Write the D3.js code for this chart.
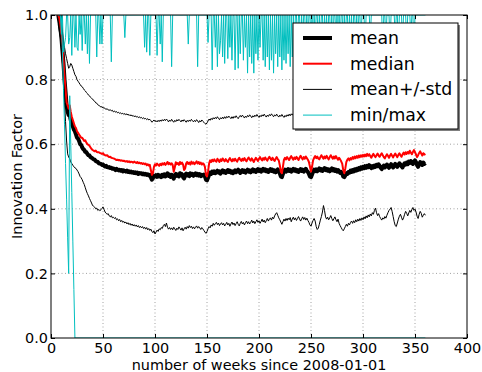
<!DOCTYPE html>
<html>
<head>
<meta charset="utf-8">
<script src="https://cdn.jsdelivr.net/npm/d3@7"></script>
<style>
  html, body { margin: 0; padding: 0; background: #fff; }
  svg text { font-family: "DejaVu Sans", sans-serif; fill: #000; }
</style>
</head>
<body>
<svg id="chart" width="482" height="372"></svg>
<script>
// weekly series, first value is week 7
const firstWeek = 7;

const meanValues = [
  1.00,0.98,0.96,0.93,0.89,0.85,0.80,0.76,0.72,0.70,
  0.69,0.69,0.675,0.66,0.655,0.645,0.64,0.63,0.62,0.618,
  0.61,0.60,0.598,0.59,0.585,0.582,0.576,0.575,0.57,0.566,
  0.565,0.56,0.558,0.556,0.553,0.552,0.548,0.546,0.545,0.541,
  0.54,0.539,0.536,0.537,0.533,0.531,0.533,0.529,0.528,0.529,
  0.526,0.527,0.524,0.525,0.523,0.52,0.524,0.521,0.519,0.521,
  0.518,0.52,0.516,0.519,0.517,0.515,0.518,0.514,0.516,0.513,
  0.515,0.512,0.514,0.511,0.513,0.51,0.512,0.508,0.511,0.509,
  0.51,0.507,0.509,0.506,0.508,0.505,0.507,0.503,0.505,0.498,
  0.49,0.495,0.502,0.50,0.504,0.499,0.505,0.50,0.503,0.498,
  0.505,0.501,0.507,0.50,0.504,0.51,0.502,0.506,0.499,0.505,
  0.50,0.493,0.504,0.508,0.502,0.506,0.50,0.51,0.504,0.507,
  0.498,0.494,0.505,0.509,0.503,0.507,0.501,0.51,0.505,0.508,
  0.502,0.506,0.51,0.504,0.508,0.503,0.507,0.501,0.505,0.503,
  0.506,0.50,0.49,0.488,0.496,0.505,0.512,0.508,0.515,0.511,
  0.516,0.51,0.514,0.518,0.512,0.516,0.509,0.515,0.519,0.513,
  0.517,0.511,0.515,0.52,0.514,0.518,0.512,0.516,0.51,0.515,
  0.519,0.513,0.517,0.521,0.515,0.511,0.516,0.52,0.514,0.518,
  0.512,0.517,0.521,0.515,0.519,0.513,0.518,0.522,0.516,0.52,
  0.514,0.519,0.523,0.517,0.521,0.515,0.52,0.524,0.518,0.522,
  0.516,0.52,0.514,0.519,0.523,0.517,0.521,0.515,0.519,0.513,
  0.518,0.522,0.516,0.51,0.50,0.498,0.508,0.516,0.521,0.515,
  0.519,0.523,0.517,0.521,0.515,0.52,0.524,0.518,0.522,0.516,
  0.52,0.514,0.519,0.523,0.517,0.521,0.515,0.52,0.524,0.518,
  0.514,0.508,0.50,0.498,0.506,0.515,0.521,0.517,0.522,0.516,
  0.52,0.525,0.519,0.523,0.517,0.522,0.526,0.52,0.524,0.518,
  0.522,0.516,0.521,0.525,0.519,0.523,0.517,0.521,0.515,0.52,
  0.516,0.511,0.514,0.509,0.50,0.498,0.503,0.51,0.508,0.514,
  0.512,0.518,0.514,0.52,0.516,0.522,0.518,0.524,0.52,0.526,
  0.522,0.528,0.524,0.53,0.526,0.532,0.527,0.533,0.529,0.535,
  0.53,0.526,0.532,0.528,0.534,0.53,0.536,0.532,0.538,0.533,
  0.527,0.523,0.529,0.534,0.528,0.532,0.537,0.531,0.527,0.533,
  0.538,0.532,0.528,0.534,0.539,0.535,0.53,0.536,0.541,0.537,
  0.532,0.528,0.535,0.541,0.537,0.543,0.538,0.546,0.542,0.548,
  0.543,0.539,0.545,0.55,0.544,0.535,0.53,0.538,0.545,0.54,
  0.536,0.543,0.539,0.542
];

const medianValues = [
  1.0,0.99,0.97,0.94,0.90,0.86,0.81,0.77,0.73,0.72,
  0.71,0.72,0.70,0.685,0.675,0.665,0.655,0.65,0.64,0.635,
  0.63,0.625,0.62,0.62,0.615,0.61,0.612,0.605,0.60,0.598,
  0.595,0.59,0.585,0.582,0.58,0.578,0.58,0.576,0.575,0.575,
  0.573,0.572,0.57,0.572,0.568,0.566,0.565,0.566,0.562,0.56,
  0.561,0.558,0.557,0.556,0.555,0.553,0.551,0.552,0.55,0.551,
  0.549,0.55,0.548,0.549,0.547,0.546,0.548,0.545,0.547,0.544,
  0.546,0.545,0.543,0.546,0.544,0.542,0.545,0.541,0.543,0.54,
  0.542,0.539,0.541,0.538,0.54,0.535,0.538,0.534,0.536,0.52,
  0.505,0.51,0.53,0.538,0.534,0.54,0.536,0.533,0.539,0.535,
  0.541,0.537,0.542,0.536,0.54,0.545,0.538,0.542,0.537,0.541,
  0.536,0.515,0.528,0.544,0.538,0.542,0.536,0.545,0.539,0.543,
  0.537,0.52,0.525,0.541,0.545,0.539,0.543,0.537,0.546,0.54,
  0.544,0.538,0.542,0.547,0.54,0.545,0.539,0.543,0.537,0.541,
  0.538,0.53,0.505,0.50,0.515,0.54,0.55,0.545,0.552,0.547,
  0.553,0.548,0.546,0.555,0.55,0.545,0.553,0.548,0.556,0.551,
  0.547,0.554,0.549,0.545,0.552,0.557,0.551,0.547,0.554,0.549,
  0.555,0.55,0.546,0.553,0.558,0.552,0.548,0.555,0.55,0.557,
  0.551,0.547,0.554,0.559,0.553,0.549,0.556,0.551,0.545,0.552,
  0.558,0.553,0.548,0.555,0.56,0.554,0.55,0.557,0.552,0.559,
  0.553,0.549,0.556,0.561,0.555,0.551,0.558,0.552,0.548,0.555,
  0.56,0.554,0.55,0.535,0.515,0.51,0.53,0.552,0.558,0.553,
  0.56,0.555,0.551,0.558,0.563,0.557,0.552,0.559,0.554,0.561,
  0.556,0.551,0.558,0.564,0.558,0.553,0.56,0.555,0.562,0.557,
  0.552,0.545,0.53,0.515,0.53,0.55,0.558,0.563,0.557,0.562,
  0.556,0.553,0.56,0.566,0.56,0.555,0.562,0.557,0.564,0.558,
  0.553,0.56,0.566,0.56,0.555,0.562,0.556,0.563,0.557,0.552,
  0.558,0.553,0.547,0.54,0.52,0.51,0.525,0.545,0.552,0.556,
  0.55,0.557,0.553,0.56,0.555,0.562,0.557,0.563,0.558,0.565,
  0.56,0.566,0.561,0.567,0.562,0.568,0.563,0.57,0.564,0.569,
  0.563,0.558,0.565,0.57,0.564,0.56,0.566,0.571,0.565,0.561,
  0.567,0.572,0.566,0.56,0.556,0.563,0.569,0.564,0.558,0.565,
  0.57,0.564,0.559,0.566,0.571,0.565,0.56,0.567,0.572,0.566,
  0.561,0.568,0.574,0.568,0.575,0.57,0.576,0.571,0.58,0.574,
  0.569,0.576,0.582,0.575,0.568,0.56,0.566,0.573,0.578,0.571,
  0.565,0.572,0.568,0.57
];

const upperValues = [
  1.1,1.07,1.04,0.99,0.95,0.92,0.90,0.88,0.865,0.85,
  0.835,0.84,0.85,0.845,0.835,0.825,0.815,0.81,0.80,0.795,
  0.79,0.785,0.78,0.778,0.773,0.768,0.765,0.76,0.757,0.752,
  0.75,0.745,0.742,0.74,0.735,0.733,0.728,0.727,0.722,0.72,
  0.718,0.715,0.716,0.712,0.713,0.71,0.708,0.71,0.706,0.705,
  0.707,0.703,0.705,0.70,0.703,0.699,0.701,0.697,0.699,0.695,
  0.697,0.694,0.696,0.692,0.695,0.691,0.694,0.69,0.692,0.688,
  0.691,0.687,0.689,0.685,0.688,0.684,0.686,0.682,0.685,0.681,
  0.683,0.679,0.682,0.678,0.68,0.676,0.679,0.675,0.677,0.673,
  0.668,0.671,0.675,0.67,0.673,0.669,0.674,0.67,0.675,0.671,
  0.676,0.672,0.677,0.673,0.678,0.674,0.669,0.675,0.671,0.677,
  0.672,0.668,0.674,0.67,0.676,0.672,0.677,0.673,0.669,0.675,
  0.671,0.676,0.672,0.668,0.674,0.67,0.675,0.671,0.677,0.673,
  0.669,0.674,0.67,0.676,0.672,0.667,0.673,0.669,0.675,0.671,
  0.668,0.664,0.662,0.666,0.672,0.678,0.674,0.68,0.676,0.682,
  0.678,0.683,0.679,0.685,0.68,0.676,0.682,0.678,0.684,0.679,
  0.685,0.68,0.686,0.682,0.687,0.683,0.679,0.685,0.68,0.686,
  0.682,0.688,0.683,0.679,0.685,0.689,0.684,0.69,0.686,0.681,
  0.687,0.683,0.689,0.685,0.691,0.687,0.682,0.688,0.684,0.69,
  0.686,0.692,0.687,0.683,0.689,0.685,0.691,0.687,0.693,0.688,
  0.684,0.69,0.686,0.692,0.688,0.694,0.689,0.685,0.691,0.687,
  0.693,0.688,0.684,0.69,0.686,0.692,0.687,0.683,0.689,0.685,
  0.691,0.687,0.693,0.688,0.694,0.69,0.695,0.699,0.693,0.697,
  0.692,0.698,0.694,0.699,0.695,0.691,0.697,0.693,0.699,0.695,
  0.69,0.686,0.684,0.69,0.696,0.701,0.697,0.702,0.698,0.694,
  0.7,0.705,0.699,0.703,0.697,0.702,0.707,0.701,0.705,0.699,
  0.703,0.698,0.702,0.706,0.7,0.704,0.699,0.703,0.697,0.701,
  0.696,0.692,0.695,0.69,0.686,0.688,0.693,0.698,0.694,0.699,
  0.695,0.7,0.696,0.702,0.698,0.703,0.699,0.705,0.701,0.706,
  0.702,0.707,0.703,0.709,0.705,0.71,0.706,0.711,0.707,0.712,
  0.708,0.704,0.71,0.706,0.711,0.707,0.713,0.709,0.714,0.71,
  0.705,0.701,0.707,0.712,0.706,0.71,0.715,0.709,0.705,0.711,
  0.716,0.71,0.706,0.712,0.717,0.713,0.708,0.714,0.719,0.715,
  0.71,0.706,0.713,0.718,0.714,0.72,0.715,0.722,0.718,0.724,
  0.719,0.715,0.721,0.726,0.72,0.712,0.708,0.715,0.721,0.716,
  0.712,0.718,0.714,0.717
];

const lowerValues = [
  0.97,0.95,0.93,0.90,0.85,0.80,0.73,0.67,0.61,0.57,
  0.56,0.555,0.545,0.54,0.535,0.53,0.527,0.525,0.52,0.515,
  0.508,0.50,0.496,0.49,0.482,0.475,0.465,0.455,0.447,0.44,
  0.432,0.425,0.418,0.41,0.408,0.405,0.40,0.402,0.395,0.398,
  0.394,0.397,0.401,0.406,0.398,0.39,0.386,0.383,0.385,0.378,
  0.375,0.379,0.372,0.374,0.37,0.373,0.366,0.369,0.363,0.367,
  0.36,0.364,0.358,0.361,0.356,0.359,0.353,0.357,0.351,0.355,
  0.349,0.353,0.347,0.351,0.346,0.35,0.344,0.348,0.342,0.346,
  0.341,0.345,0.339,0.343,0.337,0.342,0.335,0.339,0.333,0.337,
  0.33,0.326,0.332,0.322,0.328,0.334,0.33,0.338,0.335,0.342,
  0.339,0.348,0.352,0.345,0.356,0.343,0.337,0.342,0.336,0.341,
  0.335,0.343,0.338,0.333,0.34,0.336,0.344,0.339,0.334,0.341,
  0.332,0.338,0.343,0.337,0.345,0.34,0.348,0.342,0.346,0.339,
  0.344,0.338,0.343,0.347,0.34,0.345,0.341,0.336,0.342,0.338,
  0.333,0.328,0.324,0.33,0.338,0.345,0.341,0.35,0.346,0.355,
  0.349,0.354,0.358,0.351,0.356,0.348,0.353,0.357,0.35,0.355,
  0.347,0.352,0.358,0.35,0.355,0.346,0.353,0.359,0.351,0.356,
  0.348,0.354,0.36,0.352,0.347,0.355,0.361,0.353,0.358,0.35,
  0.357,0.362,0.354,0.36,0.353,0.358,0.365,0.356,0.362,0.354,
  0.36,0.366,0.358,0.363,0.355,0.361,0.368,0.359,0.365,0.357,
  0.363,0.37,0.362,0.368,0.372,0.365,0.374,0.369,0.378,0.384,
  0.388,0.38,0.372,0.366,0.359,0.352,0.36,0.368,0.362,0.37,
  0.364,0.371,0.366,0.373,0.36,0.368,0.374,0.366,0.372,0.364,
  0.37,0.376,0.368,0.362,0.369,0.375,0.367,0.373,0.365,0.371,
  0.364,0.358,0.35,0.346,0.356,0.364,0.37,0.362,0.345,0.336,
  0.34,0.352,0.365,0.376,0.39,0.41,0.395,0.375,0.368,0.374,
  0.366,0.372,0.379,0.37,0.363,0.369,0.375,0.366,0.36,0.368,
  0.355,0.348,0.342,0.336,0.332,0.338,0.345,0.352,0.346,0.355,
  0.35,0.358,0.362,0.355,0.363,0.357,0.366,0.36,0.368,0.362,
  0.37,0.364,0.372,0.366,0.375,0.369,0.378,0.372,0.381,0.375,
  0.384,0.378,0.388,0.383,0.395,0.402,0.388,0.379,0.385,0.376,
  0.37,0.365,0.372,0.368,0.376,0.371,0.38,0.388,0.395,0.399,
  0.404,0.392,0.376,0.36,0.348,0.345,0.356,0.368,0.377,0.383,
  0.374,0.365,0.372,0.383,0.392,0.386,0.378,0.387,0.395,0.389,
  0.398,0.404,0.395,0.399,0.39,0.377,0.37,0.383,0.392,0.386,
  0.374,0.38,0.385,0.38
];

const maxValues = [
  1,1,1,0.94,1,0.885,0.91,0.93,1,1,
  0.91,0.93,1,0.875,1,1,0.90,1,0.90,0.89,
  1,0.94,1,0.89,1,1,0.91,1,0.88,1,
  0.85,1,1,1,1,1,1,0.87,1,1,
  0.91,1,0.91,1,1,1,1,1,1,1,
  1,0.855,1,1,1,1,1,1,1,1,
  1,1,1,1,0.93,1,1,1,1,1,
  1,1,1,1,1,1,1,1,1,1,
  1,1,1,0.90,1,0.885,1,1,0.875,1,
  1,1,1,1,1,0.875,1,1,0.91,1,
  0.855,1,1,1,1,1,1,1,1,0.84,
  1,1,1,1,1,1,1,1,1,1,
  1,1,1,1,1,0.91,1,1,1,1,
  1,1,1,1,0.84,1,1,1,1,1,
  1,1,1,1,0.915,1,1,1,0.83,1,
  1,0.9,1,0.84,1,0.88,0.92,1,0.87,1,
  0.85,1,1,0.865,1,0.9,1,0.86,1,1,
  0.83,1,1,0.835,1,0.88,1,1,0.86,1,
  0.9,1,0.82,1,0.87,1,0.85,1,0.82,1,
  0.88,1,0.86,1,0.9,1,1,0.86,1,0.84,
  1,0.87,1,0.83,1,0.86,1,0.82,1,0.88,
  1,0.84,1,0.87,1,0.83,1,0.86,1,0.85,
  1,0.88,1,0.84,1,0.87,1,0.9,1,1,
  0.92,1,1,0.9,1,0.93,1,1,0.91,1,
  0.9,1,1,0.92,1,0.9,1,0.93,1,1,
  0.91,1,0.92,1,1,0.9,1,0.93,1,0.91,
  1,1,0.92,1,0.9,1,1,0.93,1,0.91,
  1,0.92,1,1,0.9,1,0.93,1,1,0.91,
  1,0.92,1,0.9,1,1,0.93,1,0.91,1,
  1,0.92,1,1,1,0.9,1,1,1,1,
  0.93,1,1,1,1,1,1,1,1,1,
  1,1,0.9,1,1,0.92,1,1,1,0.91,
  1,1,1,1,0.93,1,1,0.9,1,1,
  1,0.92,1,1,1,0.91,1,1,1,0.93,
  1,1,0.9,1,1,1,1,1,1,1,
  1,1,1,1
];

// min drops to zero early and stays there
const minWeeks  = [7, 8, 9, 10, 11, 12, 13, 14, 15, 16, 17, 18, 19, 20, 21, 22, 23, 360];
const minValues = [1, 1, 1, 0.99, 0.89, 0.77, 0.66, 0.54, 0.43, 0.31, 0.2, 0.75, 0.6, 0.45, 0.3, 0.15, 0, 0];

const xTicks = [0, 50, 100, 150, 200, 250, 300, 350, 400];
const yTicks = [0, 0.2, 0.4, 0.6, 0.8, 1.0];

const legendItems = [
  { label: 'mean', color: '#000000', width: 4 },
  { label: 'median', color: '#ff0000', width: 2 },
  { label: 'mean+/-std', color: '#000000', width: 1 },
  { label: 'min/max', color: '#00bfbf', width: 1 }
];

const margin = { top: 15, right: 15, bottom: 34, left: 51 };
const width = 482, height = 372;
const innerW = width - margin.left - margin.right;
const innerH = height - margin.top - margin.bottom;

const svg = d3.select('#chart');
svg.append('rect').attr('width', width).attr('height', height).attr('fill', '#fff');

const x = d3.scaleLinear().domain([0, 400]).range([0, innerW]);
const y = d3.scaleLinear().domain([0, 1]).range([innerH, 0]);

const g = svg.append('g').attr('transform', `translate(${margin.left},${margin.top})`);

svg.append('defs').append('clipPath').attr('id', 'plot-clip')
  .append('rect').attr('width', innerW).attr('height', innerH);

// grid
const grid = g.append('g').attr('class', 'grid');
grid.selectAll('.gx').data(xTicks.slice(1, -1)).enter().append('line')
  .attr('x1', d => x(d)).attr('x2', d => x(d))
  .attr('y1', 0).attr('y2', innerH)
  .attr('stroke', '#8a8a8a').attr('stroke-width', 0.8).attr('stroke-dasharray', '1,2.5');
grid.selectAll('.gy').data(yTicks.slice(1, -1)).enter().append('line')
  .attr('y1', d => y(d)).attr('y2', d => y(d))
  .attr('x1', 0).attr('x2', innerW)
  .attr('stroke', '#8a8a8a').attr('stroke-width', 0.8).attr('stroke-dasharray', '1,2.5');

const weekOf = (d, i) => firstWeek + i;
const line = d3.line().x((d, i) => x(weekOf(d, i))).y(d => y(d));

const plot = g.append('g').attr('clip-path', 'url(#plot-clip)');

function drawSeries(values, color, w) {
  plot.append('path').datum(values)
    .attr('d', line)
    .attr('fill', 'none')
    .attr('stroke', color)
    .attr('stroke-width', w)
    .attr('stroke-linejoin', 'round');
}

drawSeries(meanValues, '#000', 4);
drawSeries(medianValues, '#ff0000', 2);
drawSeries(upperValues, '#000', 1);
drawSeries(lowerValues, '#000', 1);

plot.append('path').datum(minValues)
  .attr('d', d3.line().x((d, i) => x(minWeeks[i])).y(d => y(d)))
  .attr('fill', 'none').attr('stroke', '#00bfbf').attr('stroke-width', 1);
drawSeries(maxValues, '#00bfbf', 1);

// axes: ticks inside on all four sides
const xAxis = d3.axisBottom(x).tickValues(xTicks).tickSize(-4).tickPadding(5).tickFormat(d3.format('d'));
const yAxis = d3.axisLeft(y).tickValues(yTicks).tickSize(-4).tickPadding(3).tickFormat(d3.format('.1f'));

const xg = g.append('g').attr('transform', `translate(0,${innerH})`).call(xAxis);
const yg = g.append('g').call(yAxis);
g.append('g').call(d3.axisTop(x).tickValues(xTicks).tickSize(-4).tickFormat(''));
g.append('g').attr('transform', `translate(${innerW},0)`)
  .call(d3.axisRight(y).tickValues(yTicks).tickSize(-4).tickFormat(''));

g.selectAll('.domain').remove();
g.selectAll('.tick line').attr('stroke', '#000');
[xg, yg].forEach(a => a.selectAll('text')
  .style('font-family', '"DejaVu Sans", sans-serif')
  .style('font-size', '14.4px').attr('fill', '#000'));

g.append('rect').attr('width', innerW).attr('height', innerH)
  .attr('fill', 'none').attr('stroke', '#000').attr('stroke-width', 1);

// axis labels
svg.append('text')
  .attr('x', margin.left + innerW / 2).attr('y', 370)
  .attr('text-anchor', 'middle').style('font-size', '14.4px')
  .text('number of weeks since 2008-01-01');

svg.append('text')
  .attr('transform', `translate(22,${margin.top + innerH / 2}) rotate(-90)`)
  .attr('text-anchor', 'middle').style('font-size', '14.4px')
  .text('Innovation Factor');

// legend
const legend = svg.append('g').attr('transform', 'translate(293,23)');
const lw = 165, lh = 106;
legend.append('rect').attr('x', 2).attr('y', 2).attr('width', lw).attr('height', lh)
  .attr('fill', '#7f7f7f');
legend.append('rect').attr('width', lw).attr('height', lh)
  .attr('fill', '#fff').attr('stroke', '#000').attr('stroke-width', 1);

const rows = legend.selectAll('.item').data(legendItems).enter().append('g')
  .attr('transform', (d, i) => `translate(0,${15 + i * 25.7})`);
rows.append('line')
  .attr('x1', 10).attr('x2', 39).attr('y1', 0).attr('y2', 0)
  .attr('stroke', d => d.color).attr('stroke-width', d => d.width);
rows.append('text')
  .attr('x', 57).attr('y', 6)
  .style('font-size', '17.3px')
  .text(d => d.label);
</script>
</body>
</html>
